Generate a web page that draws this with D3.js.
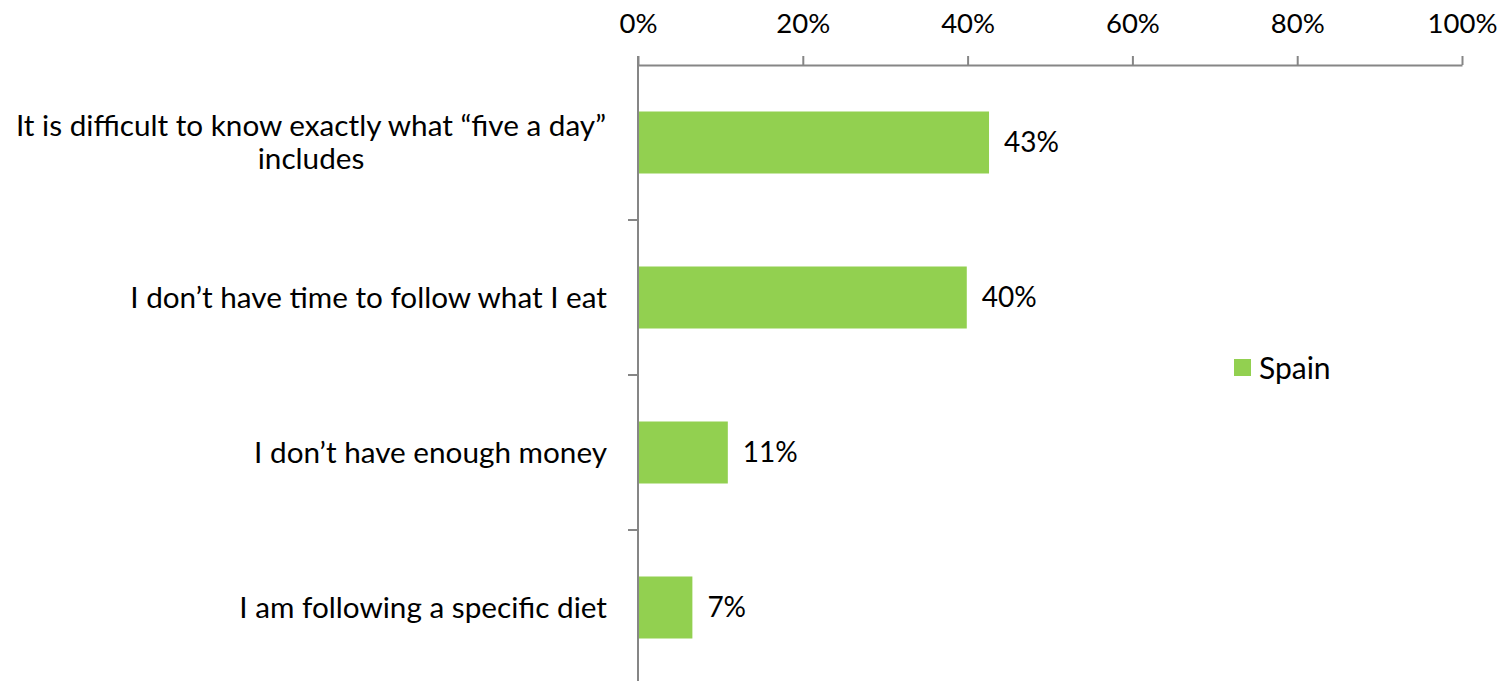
<!DOCTYPE html>
<html>
<head>
<meta charset="utf-8">
<script src="https://cdn.jsdelivr.net/npm/d3@7"></script>
<style>
  body { margin: 0; background: #fff; }
  text { font-family: Lato, "Open Sans", sans-serif; fill: #000; }
</style>
</head>
<body>
<div id="chart"></div>
<script>
// data
const categories = [
  ["It is difficult to know exactly what \u201cfive a day\u201d", "includes"],
  ["I don\u2019t have time to follow what I eat"],
  ["I don\u2019t have enough money"],
  ["I am following a specific diet"]
];
const spainValues = [42.6, 39.9, 10.9, 6.6];
const valueLabels = ["43%", "40%", "11%", "7%"];
const tickValues = [0, 20, 40, 60, 80, 100];
const seriesName = "Spain";

const W = 1505, H = 681;
const margin = { top: 65, left: 638, right: 43, bottom: -4 };
const green = "#92D050", axisColor = "#868686";

const svg = d3.select("#chart").append("svg")
  .attr("width", W).attr("height", H);

const x = d3.scaleLinear().domain([0, 100]).range([margin.left, W - margin.right]);
const y = d3.scaleBand().domain(d3.range(categories.length))
  .range([margin.top, H - margin.bottom]).paddingInner(0.6).paddingOuter(0.3);
const yEdges = d3.scaleBand().domain(d3.range(categories.length))
  .range([margin.top, H - margin.bottom]);

// top x axis
const xAxis = svg.append("g")
  .attr("transform", "translate(0," + margin.top + ")")
  .call(d3.axisTop(x).tickValues(tickValues).tickSize(9).tickSizeOuter(0).tickPadding(23)
    .tickFormat(d => d + "%"));
xAxis.select(".domain").attr("stroke", axisColor).attr("stroke-width", 2);
xAxis.selectAll(".tick line").attr("stroke", axisColor).attr("stroke-width", 2);
xAxis.selectAll(".tick text").style("font-size", "27.5px").attr("fill", "#000");

// left y axis line + category dividers
svg.append("line")
  .attr("x1", x(0)).attr("x2", x(0))
  .attr("y1", margin.top - 9).attr("y2", H)
  .attr("stroke", axisColor).attr("stroke-width", 2);
svg.selectAll(".ytick")
  .data(d3.range(1, categories.length + 1))
  .enter().append("line")
  .attr("x1", x(0) - 10).attr("x2", x(0))
  .attr("y1", d => yEdges(d - 1) + yEdges.bandwidth())
  .attr("y2", d => yEdges(d - 1) + yEdges.bandwidth())
  .attr("stroke", axisColor).attr("stroke-width", 2);

// bars
svg.selectAll(".bar")
  .data(spainValues)
  .enter().append("rect")
  .attr("x", x(0) + 1)
  .attr("y", (d, i) => y(i))
  .attr("width", d => x(d) - x(0) - 1)
  .attr("height", y.bandwidth())
  .attr("fill", green);

// value labels
svg.selectAll(".val")
  .data(spainValues)
  .enter().append("text")
  .attr("x", d => x(d) + 15)
  .attr("y", (d, i) => y(i) + y.bandwidth() / 2)
  .attr("dy", "0.35em")
  .style("font-size", "28px")
  .text((d, i) => valueLabels[i]);

// category labels
categories.forEach((lines, i) => {
  const cy = y(i) + y.bandwidth() / 2;
  const lh = 33;
  const t = svg.append("text")
    .attr("text-anchor", lines.length > 1 ? "middle" : "end")
    .style("font-size", "29.7px");
  lines.forEach((ln, j) => {
    t.append("tspan")
      .attr("x", lines.length > 1 ? 311 : 607)
      .attr("y", cy + (j - (lines.length - 1) / 2) * lh)
      .attr("dy", "0.35em")
      .text(ln);
  });
});

// legend
const legend = svg.append("g").attr("transform", "translate(1234,359)");
legend.append("rect").attr("width", 17).attr("height", 17).attr("fill", green);
legend.append("text").attr("x", 25).attr("y", 9).attr("dy", "0.35em")
  .style("font-size", "30px").text(seriesName);
</script>
</body>
</html>
